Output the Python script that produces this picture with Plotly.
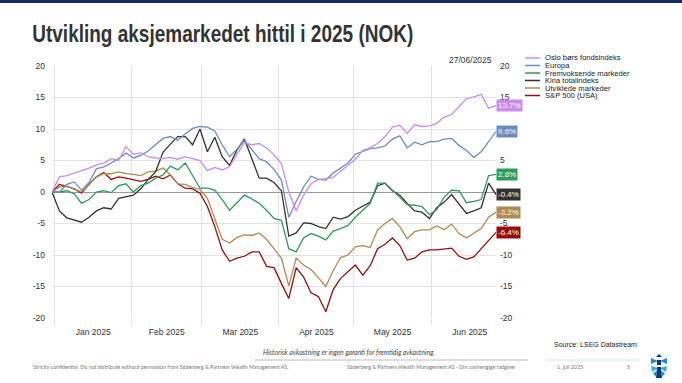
import pandas as pd
import plotly.graph_objects as go

# ---------------- data ----------------
start_date = "2024-12-31"
end_date = "2025-06-27"
n_points = 61

series_names = ["Oslo børs fondsindeks", "Europa", "Fremvoksende markeder",
                "Kina totalindeks", "Utviklede markeder", "S&P 500 (USA)"]

oslo = [0, 2.4, 2.6, 3.0, 3.3, 3.8, 4.3, 4.6, 5.3, 5.0, 7.2, 6.0, 6.2, 5.6, 5.4, 5.3, 5.5, 5.2, 5.6, 5.3, 5.0,
        3.4, 3.9, 3.5, 4.0, 6.0, 7.8, 7.5, 7.7, 7.0, 5.9, 4.5, 0.0, -3.0, -0.5, 1.3, 2.0, 2.1, 2.3, 3.3, 4.3, 5.2,
        6.6, 7.0, 7.7, 8.8, 10.3, 10.6, 9.3, 10.7, 10.4, 10.5, 10.9, 11.9, 12.3, 13.6, 14.8, 15.1, 15.5, 13.3, 13.7]
europa = [0, 0.0, 1.2, 1.6, 0.3, 1.5, 3.7, 4.0, 4.6, 5.3, 6.2, 5.4, 5.8, 6.5, 7.5, 8.5, 8.8, 8.2, 9.2, 10.1, 10.4,
          10.3, 9.7, 7.5, 5.6, 6.8, 8.2, 6.8, 5.3, 4.8, 3.6, 1.9, -4.0, -1.5, 0.8, 2.5, 2.0, 1.9, 3.0, 3.8, 4.6, 6.0,
          6.4, 6.9, 7.0, 7.3, 8.4, 8.9, 7.0, 7.9, 7.5, 8.0, 8.0, 8.4, 8.5, 7.4, 6.6, 5.5, 6.4, 8.1, 9.6]
fremvoksende = [0, 0.0, 0.2, -0.3, -1.8, -1.2, 0.0, 0.2, -0.1, 1.0, 1.3, 0.0, 1.0, 1.4, 2.2, 2.7, 4.1, 3.5, 4.6, 2.6, 0.6,
                0.6, 0.3, -1.2, -2.9, -1.7, -0.5, -1.1, -1.8, -2.9, -4.2, -4.5, -9.0, -9.5, -7.3, -6.6, -7.0, -7.6, -6.2, -5.8, -5.3, -4.0,
                -2.9, -1.8, 1.4, 1.4, 0.3, -0.8, -2.0, -2.1, -2.3, -3.6, -2.8, -0.8, 0.3, 0.2, -1.7, -1.5, -1.2, 2.6, 2.8]
kina = [0, -3.0, -4.1, -4.4, -4.8, -4.0, -3.0, -2.5, -2.7, -1.0, -0.7, -0.5, 0.5, 2.0, 3.2, 6.3, 7.6, 8.8, 8.8, 7.5, 10.0,
        6.4, 8.7, 5.6, 4.2, 6.7, 8.4, 5.3, 2.2, 2.2, 1.5, 0.2, -7.0, -6.5, -4.9, -5.0, -5.5, -5.8, -4.0, -4.3, -3.9, -2.9,
        -2.3, -1.6, 1.0, 1.4, 0.2, -0.5, -1.8, -3.0, -3.2, -4.2, -2.5, -1.6, -0.4, -1.9, -3.4, -3.0, -2.5, 1.4, -0.4]
utviklede = [0, 0.8, 0.9, 0.5, 0.0, 1.2, 2.4, 2.9, 2.9, 3.2, 2.9, 2.8, 2.6, 3.2, 3.3, 3.8, 2.7, 1.3, 1.2, 0.7, 0.4,
             -1.0, -4.3, -7.5, -8.1, -7.2, -6.8, -6.9, -6.5, -7.5, -9.0, -10.5, -14.9, -10.5, -11.6, -12.3, -13.6, -15.0, -12.5, -10.4, -10.0, -8.7,
             -8.5, -8.8, -6.0, -5.0, -4.2, -5.5, -7.4, -6.3, -6.0, -6.0, -5.4, -6.0, -5.1, -6.6, -7.3, -6.5, -5.8, -4.0, -3.2]
sp500 = [0, 1.2, 0.9, 0.5, -0.2, 1.2, 2.4, 3.1, 2.0, 2.4, 2.2, 1.9, 1.7, 2.0, 2.5, 2.1, 2.7, 1.3, 0.6, 0.5, -0.2,
         -2.3, -5.5, -9.2, -11.0, -10.5, -10.2, -9.5, -9.5, -11.8, -12.0, -14.5, -16.9, -12.0, -13.5, -16.0, -16.6, -19.0, -15.5, -13.7, -12.6, -11.6,
         -13.2, -11.7, -9.0, -8.3, -7.3, -8.5, -10.8, -10.5, -9.5, -9.2, -9.2, -9.0, -8.9, -10.2, -10.7, -10.3, -9.0, -7.8, -6.4]

final_labels = ["13.7%", "9.6%", "2.8%", "-0.4%", "-3.2%", "-6.4%"]
y_ticks = [20, 15, 10, 5, 0, -5, -10, -15, -20]

colors = ["#c98cf2", "#6a8cc0", "#2e9b5c", "#333333", "#b08a52", "#9a0c0c"]
all_series = [oslo, europa, fremvoksende, kina, utviklede, sp500]

dates = pd.date_range(start_date, end_date, periods=n_points)

# ---------------- geometry helpers (pixel -> paper) ----------------
W, H = 682, 383
L, R, T, B = 52, 186, 66, 65
PW, PH = W - L - R, H - T - B


def px(x):
    return (x - L) / PW


def py(y):
    return (H - B - y) / PH


fig = go.Figure()

for name, vals, col in reversed(list(zip(series_names, all_series, colors))):
    fig.add_trace(go.Scatter(x=dates, y=vals, mode="lines", name=name,
                             line=dict(color=col, width=1.3), showlegend=False,
                             hoverinfo="skip"))

fig.add_trace(go.Scatter(x=[dates[0]], y=[0], yaxis="y2", mode="markers",
                         marker=dict(opacity=0), showlegend=False, hoverinfo="skip"))

axis_font = dict(family="Liberation Sans, Arial, sans-serif", size=8.5, color="#333333")

fig.update_layout(
    width=W, height=H,
    margin=dict(l=L, r=R, t=T, b=B, pad=0),
    paper_bgcolor="white", plot_bgcolor="white",
    hovermode=False,
    xaxis=dict(range=[dates[0], dates[-1]], dtick="M1", tick0="2025-01-01",
               ticklabelmode="period", tickformat="%b %Y",
               showgrid=True, gridcolor="#e3e3e3", gridwidth=1,
               ticks="outside", ticklen=6, tickcolor="#e3e3e3",
               showline=False, zeroline=False, tickfont=axis_font),
    yaxis=dict(range=[-20, 20], tickvals=y_ticks, ticktext=[str(v) for v in y_ticks],
               showgrid=True, gridcolor="#e3e3e3", gridwidth=1,
               zeroline=True, zerolinecolor="#999999", zerolinewidth=1,
               showline=False, tickfont=axis_font, ticklabelstandoff=6),
    yaxis2=dict(range=[-20, 20], tickvals=y_ticks, ticktext=[str(v) for v in y_ticks],
                overlaying="y", side="right", showgrid=False, zeroline=False,
                showline=False, tickfont=axis_font, ticklabelstandoff=3),
)

shapes = []
annotations = []

shapes.append(dict(type="rect", xref="paper", yref="paper",
                   x0=px(0), x1=px(W), y0=py(3), y1=py(0),
                   fillcolor="#142c64", line=dict(width=0), layer="above"))

TITLE_LEFT, TITLE_W = 32, 381
annotations.append(dict(text="<b>Utvikling aksjemarkedet hittil i 2025 (NOK)</b>",
                        xref="paper", yref="paper", x=px(TITLE_LEFT + TITLE_W / 2), y=py(33),
                        xanchor="center", yanchor="middle", showarrow=False,
                        font=dict(family="Liberation Sans, Arial, sans-serif",
                                  size=24, color="#333333")))

annotations.append(dict(text="27/06/2025", xref="paper", yref="paper",
                        x=px(494), y=py(60), xanchor="right", yanchor="middle",
                        showarrow=False, font=dict(family="Liberation Sans, Arial", size=8.5, color="#333333")))

for i, (name, col) in enumerate(zip(series_names, colors)):
    yy = 58 + i * 7.5
    shapes.append(dict(type="line", xref="paper", yref="paper",
                       x0=px(525), x1=px(540), y0=py(yy), y1=py(yy),
                       line=dict(color=col, width=1.5)))
    annotations.append(dict(text=name, xref="paper", yref="paper",
                            x=px(543), y=py(yy), xanchor="left", yanchor="middle",
                            showarrow=False,
                            font=dict(family="Liberation Sans, Arial", size=7.6, color="#222222")))

for vals, col, lab in zip(all_series, colors, final_labels):
    annotations.append(dict(text=lab, xref="paper", yref="y", x=1.0, y=vals[-1],
                            xanchor="left", yanchor="middle", showarrow=False,
                            bgcolor=col, borderpad=1,
                            font=dict(family="Liberation Sans, Arial", size=8, color="white")))

annotations.append(dict(text="Source: LSEG Datastream", xref="paper", yref="paper",
                        x=px(639), y=py(344), xanchor="right", yanchor="middle",
                        showarrow=False, font=dict(family="Liberation Sans, Arial", size=7, color="#222222")))

annotations.append(dict(text="<i>Historisk avkastning er ingen garanti for fremtidig avkastning.</i>",
                        xref="paper", yref="paper", x=px(349), y=py(352),
                        xanchor="center", yanchor="middle", showarrow=False,
                        font=dict(family="Lato, Open Sans, sans-serif", size=6.8, color="#444444")))

shapes.append(dict(type="line", xref="paper", yref="paper",
                   x0=px(255), x1=px(528), y0=py(360), y1=py(360),
                   line=dict(color="#bdbdbd", width=1)))
shapes.append(dict(type="line", xref="paper", yref="paper",
                   x0=px(545), x1=px(640), y0=py(360), y1=py(360),
                   line=dict(color="#cde9f6", width=1)))

footer_font = dict(family="Lato, Open Sans, sans-serif", size=5.3, color="#777777")
annotations.append(dict(text="Strictly confidential. Do not distribute without permission from Söderberg &amp; Partners Wealth Management AS.",
                        xref="paper", yref="paper", x=px(31), y=py(367),
                        xanchor="left", yanchor="middle", showarrow=False, font=footer_font))
annotations.append(dict(text="Söderberg &amp; Partners Wealth Management AS - Din uavhengige rådgiver",
                        xref="paper", yref="paper", x=px(345), y=py(367),
                        xanchor="left", yanchor="middle", showarrow=False, font=footer_font))
annotations.append(dict(text="1. juli 2025", xref="paper", yref="paper", x=px(555), y=py(367),
                        xanchor="left", yanchor="middle", showarrow=False, font=footer_font))
annotations.append(dict(text="5", xref="paper", yref="paper", x=px(628), y=py(367),
                        xanchor="center", yanchor="middle", showarrow=False, font=footer_font))


def pth(points):
    return "M " + " L ".join(f"{px(a)},{py(b)}" for a, b in points) + " Z"


logo_parts = [
    ([(659, 354), (656, 357), (662, 357)], "#0d3b7a"),
    ([(651, 358), (658, 361), (651, 364)], "#1f8ad0"),
    ([(667, 358), (660, 361), (667, 364)], "#1f8ad0"),
    ([(657, 360), (661, 360), (661, 365), (657, 365)], "#0d3b7a"),
    ([(651, 366), (658, 368), (652, 372)], "#3aa7e0"),
    ([(667, 366), (660, 368), (666, 372)], "#3aa7e0"),
    ([(657, 367), (661, 367), (662, 378), (656, 378)], "#0d3b7a"),
    ([(653, 373), (657, 371), (656, 377)], "#1f8ad0"),
    ([(665, 373), (661, 371), (662, 377)], "#1f8ad0"),
]
for pts, col in logo_parts:
    shapes.append(dict(type="path", xref="paper", yref="paper", path=pth(pts),
                       fillcolor=col, line=dict(width=0)))

fig.update_layout(shapes=shapes, annotations=annotations)

# remove default page margin and condense the title to the reference width
post_js = """
document.body.style.margin = '0';
document.body.style.overflow = 'hidden';
function condenseTitle(){
  var els = document.querySelectorAll('text.annotation-text');
  els.forEach(function(el){
    if (el.textContent.indexOf('Utvikling') === 0) {
      el.setAttribute('textLength', '%d');
      el.setAttribute('lengthAdjust', 'spacingAndGlyphs');
    }
  });
}
condenseTitle();
setTimeout(condenseTitle, 50);
""" % TITLE_W

fig.write_html("out.html", post_script=post_js, config={"displayModeBar": False, "staticPlot": True})
